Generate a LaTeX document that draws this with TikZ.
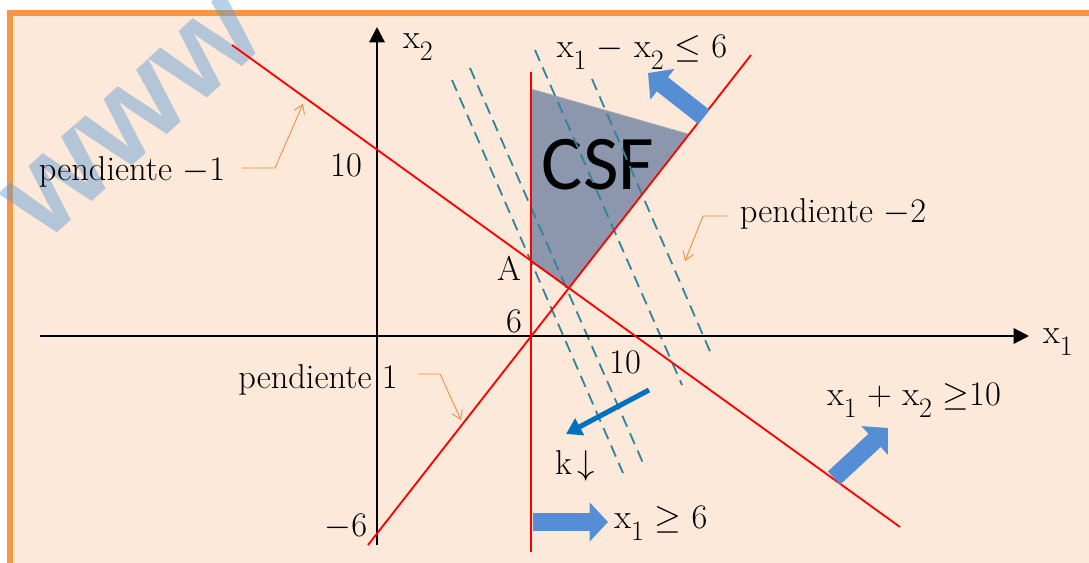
\documentclass[tikz,border=0pt]{standalone}
\usepackage{fix-cm}
\usepackage{amsmath,amssymb}
\usepackage{fontspec}
\newfontfamily\csffont{Carlito}
\newfontfamily\marcafont{Liberation Sans}
\usepackage{tikz}
\usetikzlibrary{arrows.meta,positioning,calc}
\definecolor{fondo}{HTML}{FCE9DA}
\definecolor{naranja}{HTML}{F79646}
\definecolor{notanaranja}{HTML}{F08A3C}
\definecolor{rojo}{HTML}{FF0000}
\definecolor{verdeazul}{HTML}{31849B}
\definecolor{pizarra}{HTML}{8C97AD}
\definecolor{azulbloque}{HTML}{558ED5}
\definecolor{azulk}{HTML}{0070C0}
\definecolor{azulmarca}{HTML}{5B9BD5}
% variable con subindice grande
\newcommand{\xsub}[1]{x\raisebox{-0.34em}{\fontsize{20}{22}\selectfont #1}}
\tikzset{
  % marco y ejes
  marco/.style={fill=fondo,draw=naranja,line width=4.3pt},
  marca/.style={font=\marcafont\bfseries\fontsize{92}{100}\selectfont,
                text=azulmarca,text opacity=0.45,rotate=42,inner sep=0pt},
  eje/.style={draw=black,line width=1.6pt,-{Triangle[length=11pt,width=11pt]}},
  recta/.style={draw=rojo,line width=1.3pt},
  iso/.style={draw=verdeazul,line width=1.3pt,dash pattern=on 8.5pt off 5pt},
  csf/.style={fill=pizarra,draw=black!35,line width=0.5pt},
  % flechas
  bloque/.style={draw=azulbloque,line width=12.8pt,-{Triangle[length=13pt,width=27pt]}},
  kflecha/.style={draw=azulk,line width=3.6pt,-{Triangle[length=11pt,width=13pt]}},
  nota/.style={draw=notanaranja,line width=0.6pt,-{Straight Barb[length=6pt,width=8pt]}},
  % textos
  lbl/.style={font=\fontsize{24.5}{28}\selectfont,inner sep=1pt,text=black},
  csftxt/.style={font=\csffont\fontsize{55}{60}\selectfont,inner sep=0pt},
}
\begin{document}
\begin{tikzpicture}[x=0.025cm,y=-0.025cm]
\useasboundingbox (0,0) rectangle (1089,563);
\clip (0,0) rectangle (1089,563);
\fill[white] (0,0) rectangle (1089,563);
\draw[marco] (10,13) rectangle (1110,590);
\node[marca] (wm) at (134,118) {www};

% region factible
\coordinate (D) at (531,89);
\coordinate (A) at (531,262);
\coordinate (B) at (568,288);
\coordinate (C) at (688,134);
\fill[csf] (D) -- (A) -- (B) -- (C) -- cycle;
\node[csftxt] (csf) at (598,165) {CSF};

% rectas de iso-costo
\coordinate (d1a) at (452,80);  \coordinate (d1b) at (623,473);
\coordinate (d2a) at (470,68);  \coordinate (d2b) at (643,463);
\coordinate (d3a) at (535,50);  \coordinate (d3b) at (682,385);
\coordinate (d4a) at (592,79);  \coordinate (d4b) at (712,356);
\foreach \i in {1,...,4}
  \draw[iso] (d\i a) -- (d\i b);

% ejes
\coordinate (xo) at (40,336);  \coordinate (xe) at (1029,336);
\coordinate (yo) at (377,545); \coordinate (ye) at (377,27);
\draw[eje] (xo) -- (xe);
\draw[eje] (yo) -- (ye);

% restricciones
\coordinate (r1a) at (232,45);  \coordinate (r1b) at (900,527);
\coordinate (r2a) at (368,545); \coordinate (r2b) at (751,55);
\coordinate (r3a) at (531,72);  \coordinate (r3b) at (531,552);
\draw[recta] (r1a) -- (r1b);
\draw[recta] (r2a) -- (r2b);
\draw[recta] (r3a) -- (r3b);

% flechas de sentido
\coordinate (f1a) at (533,522); \coordinate (f1b) at (608,522);
\coordinate (f2a) at (704,117); \coordinate (f2b) at (648,73);
\coordinate (f3a) at (834,478); \coordinate (f3b) at (888,428);
\draw[bloque] (f1a) -- (f1b);
\draw[bloque] (f2a) -- (f2b);
\draw[bloque] (f3a) -- (f3b);
\coordinate (ka) at (649,390); \coordinate (kb) at (566,434);
\draw[kflecha] (ka) -- (kb);

% textos
\node[lbl] (x2) at (418,47) {\xsub{2}};
\node[lbl] (x1) at (1058,342) {\xsub{1}};
\node[lbl] (y10) at (346,165) {10};
\node[lbl] (x10) at (625,362) {10};
\node[lbl] (y6) at (514,321) {6};
\node[lbl] (ym6) at (346,527) {$-$6};
\node[lbl] (lA) at (509,268) {A};
\node[lbl] (res2) at (642,52) {\xsub{1} $-$ \xsub{2} $\leq$ 6};
\node[lbl] (res1) at (914,400) {\xsub{1} $+$ \xsub{2} $\geq$10};
\node[lbl] (res3) at (661,523) {\xsub{1} $\geq$ 6};
\node[lbl] (k) at (575,466) {k$\,\downarrow$};
\node[lbl] (pm1) at (132,172) {pendiente $-$1};
\node[lbl] (pm2) at (833,214) {pendiente $-$2};
\node[lbl] (pp1) at (318,380) {pendiente 1};

% llamadas
\coordinate (n1a) at (242,168); \coordinate (n1b) at (275,168); \coordinate (n1c) at (303,104);
\coordinate (n2a) at (728,216); \coordinate (n2b) at (703,216); \coordinate (n2c) at (685,261);
\coordinate (n3a) at (418,374); \coordinate (n3b) at (440,374); \coordinate (n3c) at (461,420);
\draw[nota] (n1a) -- (n1b) -- (n1c);
\draw[nota] (n2a) -- (n2b) -- (n2c);
\draw[nota] (n3a) -- (n3b) -- (n3c);
\end{tikzpicture}
\end{document}
